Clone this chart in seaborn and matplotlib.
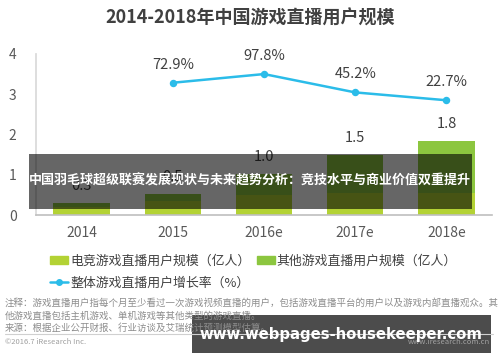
import matplotlib
matplotlib.use("Agg")
import matplotlib.pyplot as plt
import seaborn as sns
import pandas as pd
from matplotlib.patches import Patch, Rectangle
from matplotlib.lines import Line2D

years = ["2014", "2015", "2016e", "2017e", "2018e"]
total_users = [0.3, 0.52, 1.03, 1.5, 1.84]      # 游戏直播用户规模（亿人）
esports_users = [0.2, 0.35, 0.5, 0.55, 0.55]    # 电竞游戏直播用户规模（亿人）
total_labels = ["0.3", "0.5", "1.0", "1.5", "1.8"]
growth_years = ["2015", "2016e", "2017e", "2018e"]
growth = [72.9, 97.8, 45.2, 22.7]               # 整体游戏直播用户增长率（%）

esports_color = "#b3d234"
other_color = "#8cc63f"
line_color = "#2bbce9"
text_color = "#404040"

sns.set_theme(style="white")
plt.rcParams["font.family"] = ["Noto Sans CJK SC", "DejaVu Sans"]

bars = pd.DataFrame({"year": years, "total": total_users, "esports": esports_users})
rate = pd.DataFrame({"year": growth_years, "growth": growth})

fig = plt.figure(figsize=(5, 3.62), dpi=100)
ax = fig.add_axes([0.072, 0.406, 0.912, 0.445])

sns.barplot(data=bars, x="year", y="total", order=years, color=other_color,
            width=0.62, saturation=1, linewidth=0, ax=ax)
sns.barplot(data=bars, x="year", y="esports", order=years, color=esports_color,
            width=0.62, saturation=1, linewidth=0, ax=ax)
for i, lab in enumerate(total_labels):
    ax.annotate(lab, (i, total_users[i]), xytext=(0, 7), textcoords="offset points",
                ha="center", va="bottom", fontsize=10.5, color=text_color)

ax.set_ylim(0, 4)
ax.set_xlim(-0.5, 4.5)
ax.set_yticks([0, 1, 2, 3, 4])
ax.set_xlabel("")
ax.set_ylabel("")
ax.tick_params(axis="y", length=0, pad=14, labelsize=10, labelcolor="#595959")
ax.tick_params(axis="x", length=0, pad=8, labelsize=10, labelcolor="#595959")
for s in ["top", "right"]:
    ax.spines[s].set_visible(False)
ax.spines["left"].set_color("#d9d9d9")
ax.spines["bottom"].set_color("#bfbfbf")
ax.spines["bottom"].set_linewidth(1.2)

ax2 = ax.twinx()
sns.pointplot(data=rate, x="year", y="growth", order=years, color=line_color,
              markers="o", markersize=4, linewidth=1.8, ax=ax2)
ax2.set_ylim(-306.4, 155.5)
ax2.set_xlim(-0.5, 4.5)
ax2.axis("off")
for yr, g in zip(growth_years, growth):
    ax2.annotate(f"{g}%", (years.index(yr), g), xytext=(0, 8), textcoords="offset points",
                 ha="center", va="bottom", fontsize=10.5, color=text_color)

fig.text(0.5, 0.95, "2014-2018年中国游戏直播用户规模", ha="center", va="center",
         fontsize=13, fontweight="bold", color=text_color)

leg_kw = dict(loc="center left", frameon=False, fontsize=9.3, handlelength=1.4,
              handleheight=0.5, handletextpad=0.15, labelcolor="#404040",
              borderaxespad=0, borderpad=0)
fig.legend([Patch(color=esports_color), Patch(color=other_color)],
           ["电竞游戏直播用户规模（亿人）", "其他游戏直播用户规模（亿人）"],
           bbox_to_anchor=(0.1, 1 - 261 / 362), ncol=2, columnspacing=0.5, **leg_kw)
fig.legend([Line2D([], [], color=line_color, marker="o", markersize=4, lw=1.8)],
           ["整体游戏直播用户增长率（%）"], bbox_to_anchor=(0.1, 1 - 283 / 362), **leg_kw)

note_color = "#8c8c8c"
fig.text(0.01, 1 - 303 / 362, "注释：游戏直播用户指每个月至少看过一次游戏视频直播的用户，包括游戏直播平台的用户以及游戏内部直播观众。其",
         fontsize=6.8, color=note_color, va="center")
fig.text(0.01, 1 - 316 / 362, "他游戏直播包括主机游戏、单机游戏等其他类型的游戏直播。",
         fontsize=6.8, color=note_color, va="center")
fig.text(0.01, 1 - 328 / 362, "来源：根据企业公开财报、行业访谈及艾瑞统计预测模型估算。",
         fontsize=6.8, color=note_color, va="center")
fig.add_artist(Line2D([0.01, 0.985], [1 - 334 / 362] * 2, color="#d0d0d0", lw=0.8))
fig.text(0.01, 1 - 342 / 362, "©2016.7 iResearch Inc.", fontsize=5.5, color="#a0a0a0", va="center")
fig.text(0.98, 1 - 342 / 362, "www.iresearch.com.cn", fontsize=5.5, color="#a0a0a0", va="center", ha="right")

# overlay banner
fig.add_artist(Rectangle((29 / 500, 1 - 209 / 362), 443 / 500, 55 / 362,
                         transform=fig.transFigure, color="black", alpha=0.6, lw=0))
fig.text(250 / 500, 1 - 181 / 362, "中国羽毛球超级联赛发展现状与未来趋势分析：竞技水平与商业价值双重提升",
         ha="center", va="center", fontsize=9.35, fontweight="bold", color="white")

# watermark
fig.add_artist(Rectangle((192 / 500, 1 - 353 / 362), 299 / 500, 38 / 362,
                         transform=fig.transFigure, color="black", alpha=0.7, lw=0))
fig.text(341 / 500, 1 - 335 / 362, "www.webpages-housekeeper.com", ha="center", va="center",
         fontsize=10.7, fontweight="bold", color="white", family=["DejaVu Sans"])

fig.savefig("out.png", dpi=100)
